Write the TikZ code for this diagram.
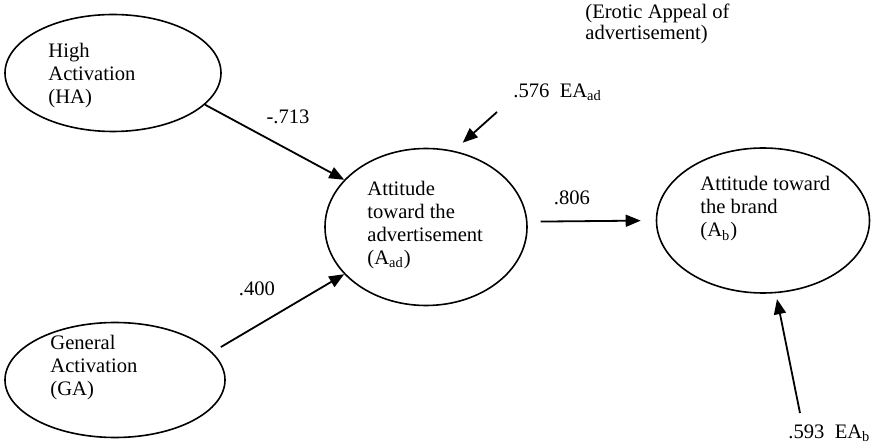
\documentclass[tikz,border=0pt]{standalone}
\usepackage{fontspec}
\setmainfont{Liberation Serif}
\usepackage{tikz}
\usetikzlibrary{shapes.geometric, arrows.meta}

\begin{document}
\begin{tikzpicture}[
    x=0.5pt, y=-0.5pt,
    latent/.style={draw, ellipse, line width=0.8pt, inner sep=0pt},
    txt/.style={align=left, inner sep=0pt, anchor=west,
      font=\fontsize{10.3}{11.5}\selectfont},
    coef/.style={inner sep=0pt, font=\fontsize{10.3}{11.5}\selectfont},
    arrow/.style={line width=0.9pt, -{Triangle[length=7.5pt, width=6pt]}}
]
\useasboundingbox (0,0) rectangle (873,443);

% Latent constructs
\node[latent, minimum width=108pt, minimum height=58.5pt] (ha) at (113,73) {};
\node[latent, minimum width=110pt, minimum height=57.5pt] (ga) at (115,380) {};
\node[latent, minimum width=101pt, minimum height=78.5pt] (aad) at (426,227) {};
\node[latent, minimum width=106.5pt, minimum height=72.5pt] (ab) at (763,220.5) {};

% Construct texts
\node[txt] (ha-txt) at (48,76) {High\\Activation\\(HA)};
\node[txt] (ga-txt) at (50,368) {General\\Activation\\(GA)};
\node[txt] (aad-txt) at (367,225) {Attitude\\toward the\\advertisement\\(A\textsubscript{ad})};
\node[txt] (ab-txt) at (700,209) {Attitude toward\\the brand\\(A\textsubscript{b})};

% Note
\node[txt, font=\fontsize{10.3}{9.2}\selectfont] (note) at (585,24) {(Erotic Appeal of\\advertisement)};

% Error terms
\node[coef, anchor=west] (eaad-lbl) at (513,92) {.576~~EA\textsubscript{ad}};
\node[coef, anchor=west] (eab-lbl) at (788,433) {.593~~EA\textsubscript{b}};
\coordinate (eaad) at (497,112);
\coordinate (eab) at (800,413);

% Path coefficients
\node[coef] (w-ha) at (288,117) {-.713};
\node[coef] (w-ga) at (257,289) {.400};
\node[coef] (w-ab) at (572,198) {.806};

% Arrows
\draw[arrow] (ha.-19) -- (aad.150);
\draw[arrow, shorten <=5pt] (ga.16) -- (aad.210);
\draw[arrow, shorten <=6.5pt, shorten >=7.5pt] (aad.3) -- (ab.180);
\draw[arrow, shorten >=6pt] (eaad) -- (aad.70);
\draw[arrow, shorten >=3pt] (eab) -- (ab.-80);

\end{tikzpicture}
\end{document}
